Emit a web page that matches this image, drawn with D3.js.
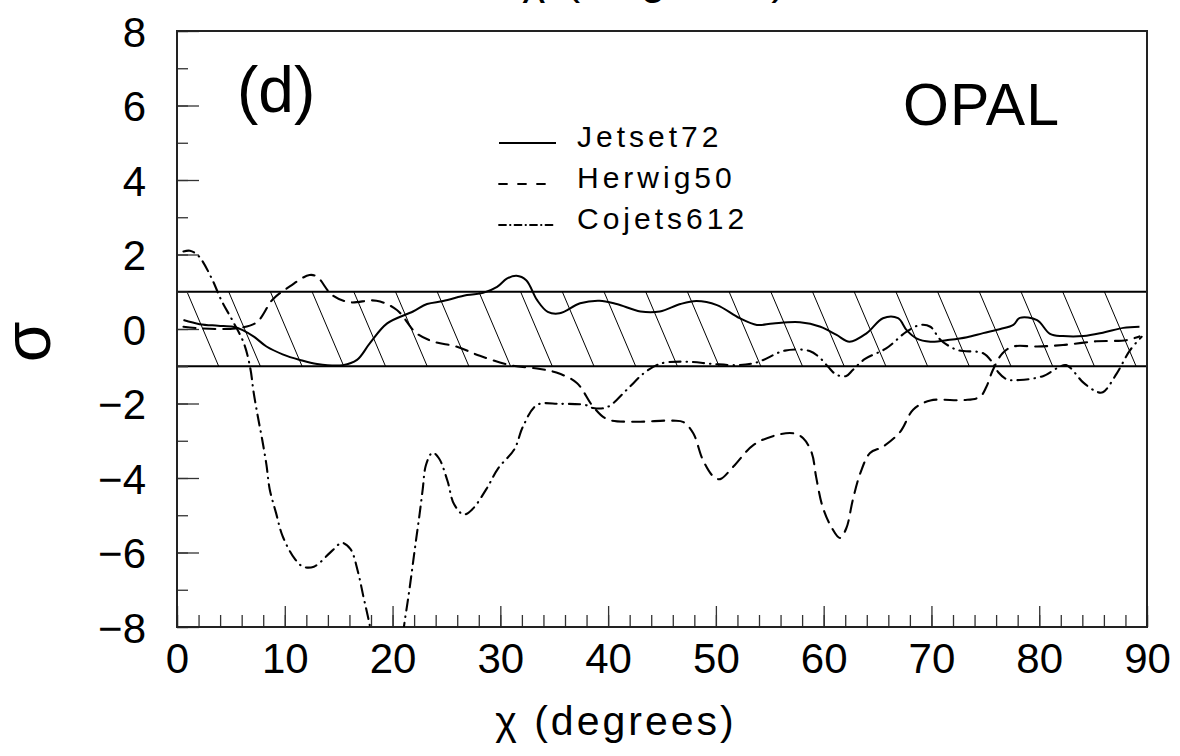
<!DOCTYPE html>
<html>
<head>
<meta charset="utf-8">
<script src="https://cdn.jsdelivr.net/npm/d3@7"></script>
<style>
    body { margin: 0; background: #fff; }
    text { font-family: "Liberation Sans", Arial, sans-serif; fill: #000; }
</style>
</head>
<body>
<svg id="chart" width="1180" height="756"></svg>
<script>
// --- data (chi in degrees, sigma) ---
const jetsetX = [0.6, 2.1, 3.8, 5.2, 6.1, 7.2, 8.3, 9.8, 11.4, 13, 15.4, 16.7, 17.9, 19.5, 21.9, 23.2, 24.7, 26.9, 28.4, 29.7, 30.6, 31.5, 32.4, 33.4, 34.4, 35.5, 37.4, 39.2, 40.8, 43, 44.8, 46.7, 48.2, 50.1, 52.2, 53.8, 55.3, 57.8, 59.7, 61.2, 62.4, 64, 65.5, 66.9, 67.7, 68.6, 69.9, 71.7, 73.3, 74.8, 76.4, 77.6, 78.2, 79.8, 81, 82.2, 84.1, 85.9, 87.8, 89.3];
const jetsetY = [0.24, 0.13, 0.09, 0.06, -0.03, -0.22, -0.47, -0.68, -0.83, -0.94, -0.97, -0.83, -0.38, 0.15, 0.47, 0.67, 0.75, 0.91, 0.97, 1.13, 1.35, 1.43, 1.31, 0.78, 0.46, 0.42, 0.69, 0.76, 0.67, 0.47, 0.47, 0.67, 0.75, 0.64, 0.29, 0.11, 0.15, 0.18, 0.06, -0.16, -0.34, -0.11, 0.29, 0.29, -0.03, -0.25, -0.34, -0.29, -0.22, -0.11, 0, 0.11, 0.30, 0.24, -0.13, -0.19, -0.19, -0.1, 0.03, 0.06];

const herwigX = [0.6, 2, 3.7, 5.8, 7.4, 8.9, 10.5, 12.3, 13, 14.4, 16, 18.5, 20.4, 22.2, 23.8, 25.9, 28.1, 30.9, 33.4, 35.2, 37.1, 38.6, 39.9, 42.3, 46, 47, 47.9, 48.8, 49.8, 50.4, 51.6, 53.5, 55.6, 57.2, 58.1, 58.9, 59.3, 59.9, 60.7, 61.5, 62.1, 62.7, 63.4, 64.3, 65.5, 67.1, 68.3, 69.9, 73, 74.5, 75.1, 75.7, 76.6, 77.6, 79.8, 82.2, 85.3, 88.1, 89.3];
const herwigY = [0.06, 0.02, 0, 0.03, 0.18, 0.8, 1.15, 1.45, 1.40, 0.91, 0.72, 0.76, 0.51, -0.11, -0.34, -0.47, -0.72, -0.97, -1.06, -1.17, -1.45, -2.08, -2.42, -2.49, -2.46, -2.5, -2.8, -3.52, -3.97, -4.03, -3.70, -3.11, -2.85, -2.8, -2.93, -3.33, -3.97, -4.77, -5.31, -5.61, -5.35, -4.59, -3.87, -3.33, -3.16, -2.76, -2.17, -1.92, -1.91, -1.82, -1.55, -1.10, -0.65, -0.47, -0.47, -0.43, -0.33, -0.3, -0.2];

const cojetsX = [0.6, 1.2, 2.0, 3.2, 4.1, 5.2, 6.2, 6.8, 7.1, 7.5, 7.9, 8.3, 8.6, 9.2, 9.8, 10.9, 11.7, 12.7, 14.4, 15.3, 16.1, 16.8, 17.3, 17.8, 18.6, 19.6, 20.6, 21.2, 21.6, 21.9, 22.2, 22.5, 22.8, 23.1, 23.7, 24.3, 25.1, 25.7, 26.6, 27.4, 28.7, 29.8, 31.3, 32.1, 33.4, 35.5, 37.9, 38.6, 39.9, 41.7, 43.3, 44.5, 45.3, 47.4, 49.8, 52.1, 53.5, 54.4, 56.4, 58.7, 59.7, 60.4, 61.2, 62.1, 62.7, 63.8, 65.8, 67.7, 69, 69.9, 70.8, 71.7, 72.6, 74.8, 75.7, 76.2, 77, 78.2, 80.4, 81.6, 82.5, 84.1, 85.3, 85.9, 87.2, 88.4, 89.5];
const cojetsY = [2.08, 2.1, 1.96, 1.37, 0.78, 0.20, -0.38, -1.05, -1.68, -2.35, -2.96, -3.65, -4.3, -4.95, -5.56, -6.16, -6.38, -6.38, -5.95, -5.74, -5.91, -6.53, -7.19, -7.83, -8.9, -9.3, -8.7, -7.7, -6.92, -6.27, -5.62, -4.99, -4.30, -3.65, -3.32, -3.47, -4.08, -4.70, -4.98, -4.84, -4.30, -3.74, -3.23, -2.62, -2.04, -2.01, -2.04, -2.12, -2.1, -1.64, -1.19, -0.97, -0.90, -0.88, -0.94, -0.97, -0.92, -0.83, -0.58, -0.59, -0.79, -1.01, -1.23, -1.26, -1.10, -0.81, -0.52, -0.07, 0.11, 0.06, -0.28, -0.47, -0.58, -0.65, -0.92, -1.16, -1.35, -1.37, -1.26, -1.06, -0.97, -1.44, -1.68, -1.7, -1.19, -0.58, -0.21];

const seriesNames = ["Jetset72", "Herwig50", "Cojets612"];
const seriesDash = ["none", "12,8", "11,6,0.5,6"];

const xMajorTicks = [0, 10, 20, 30, 40, 50, 60, 70, 80, 90];
const yMajorTicks = [-8, -6, -4, -2, 0, 2, 4, 6, 8];
const bandLimits = [-1, 1];

// --- layout ---
const mLeft = 177, mTop = 31, plotW = 970, plotH = 596;

const paper = d3.select("#chart");
const x = d3.scaleLinear().domain([0, 90]).range([mLeft, mLeft + plotW]);
const y = d3.scaleLinear().domain([-8, 8]).range([mTop + plotH, mTop]);

const series = [
    {name: seriesNames[0], dash: seriesDash[0], pts: jetsetX.map((v, i) => [v, jetsetY[i]])},
    {name: seriesNames[1], dash: seriesDash[1], pts: herwigX.map((v, i) => [v, herwigY[i]])},
    {name: seriesNames[2], dash: seriesDash[2], pts: cojetsX.map((v, i) => [v, cojetsY[i]])}
];

const defs = paper.append("defs");
defs.append("clipPath").attr("id", "plotClip")
    .append("rect")
    .attr("x", mLeft).attr("y", mTop).attr("width", plotW).attr("height", plotH);
defs.append("clipPath").attr("id", "bandClip")
    .append("rect")
    .attr("x", x(0)).attr("y", y(bandLimits[1]))
    .attr("width", x(90) - x(0)).attr("height", y(bandLimits[0]) - y(bandLimits[1]));

drawBand();
drawAxes();
drawCurves();
drawLegend();
drawLabels();

function drawBand() {
    const yTop = y(bandLimits[1]), yBot = y(bandLimits[0]);
    const spacing = 41.7, lean = 31.7;   // hatch pitch and horizontal offset top->bottom
    const hatch = d3.range(x(0), x(90) + lean + spacing, spacing);

    paper.append("g").attr("clip-path", "url(#bandClip)")
        .selectAll(".hatch")
        .data(hatch)
        .join("line")
        .attr("class", "hatch")
        .attr("x1", d => d - lean).attr("y1", yTop)
        .attr("x2", d => d).attr("y2", yBot)
        .attr("stroke", "#000").attr("stroke-width", 1);

    paper.append("rect")
        .attr("x", x(0)).attr("y", yTop)
        .attr("width", x(90) - x(0)).attr("height", yBot - yTop)
        .attr("fill", "none").attr("stroke", "#000").attr("stroke-width", 2);
}

function drawAxes() {
    // x minor + major ticks pointing into the plot
    paper.append("g")
        .attr("transform", `translate(0,${mTop + plotH})`)
        .call(d3.axisBottom(x).tickValues(d3.range(0, 91, 2)).tickSize(-12).tickFormat(""))
        .call(g => g.select(".domain").remove())
        .call(g => g.selectAll("line").attr("stroke", "#333").attr("stroke-width", 1.3));

    paper.append("g")
        .attr("transform", `translate(0,${mTop + plotH})`)
        .call(d3.axisBottom(x).tickValues(xMajorTicks).tickSize(-21).tickPadding(46).tickFormat(d3.format("d")))
        .call(g => g.select(".domain").remove())
        .call(g => g.selectAll("line").attr("stroke", "#333").attr("stroke-width", 1.3))
        .call(g => g.selectAll("text").attr("font-size", 42).attr("dy", 0)
            .attr("y", 46).attr("font-family", "Liberation Sans"));

    paper.append("g")
        .attr("transform", `translate(${mLeft},0)`)
        .call(d3.axisLeft(y).tickValues(d3.range(-8, 9, 1)).tickSize(-11).tickFormat(""))
        .call(g => g.select(".domain").remove())
        .call(g => g.selectAll("line").attr("stroke", "#333").attr("stroke-width", 1.3));

    paper.append("g")
        .attr("transform", `translate(${mLeft},0)`)
        .call(d3.axisLeft(y).tickValues(yMajorTicks).tickSize(-22).tickPadding(31).tickFormat(d3.format("d")))
        .call(g => g.select(".domain").remove())
        .call(g => g.selectAll("line").attr("stroke", "#333").attr("stroke-width", 1.3))
        .call(g => g.selectAll("text").attr("font-size", 42).attr("dy", "0.36em")
            .attr("font-family", "Liberation Sans"));

    // frame
    paper.append("rect")
        .attr("x", mLeft).attr("y", mTop).attr("width", plotW).attr("height", plotH)
        .attr("fill", "none").attr("stroke", "#222").attr("stroke-width", 2);
}

function drawCurves() {
    const line = d3.line()
        .x(d => x(d[0]))
        .y(d => y(d[1]))
        .curve(d3.curveCatmullRom.alpha(0.5));

    paper.append("g").attr("clip-path", "url(#plotClip)")
        .selectAll(".curve")
        .data(series)
        .join("path")
        .attr("class", "curve")
        .attr("d", s => line(s.pts))
        .attr("fill", "none")
        .attr("stroke", "#000")
        .attr("stroke-width", s => s.dash === "none" ? 2 : 2.1)
        .attr("stroke-linecap", s => s.dash === "none" ? "butt" : "round")
        .attr("stroke-dasharray", s => s.dash === "none" ? null : s.dash);
}

function drawLegend() {
    const rows = [143, 184, 225];
    const legend = paper.append("g").attr("class", "legend")
        .selectAll("g")
        .data(series)
        .join("g")
        .attr("transform", (s, i) => `translate(0,${rows[i]})`);

    legend.append("line")
        .attr("x1", 499).attr("x2", 556)
        .attr("stroke", "#000").attr("stroke-width", 1.8)
        .attr("stroke-linecap", s => s.dash === "none" ? "butt" : "round")
        .attr("stroke-dasharray", (s, i) => i === 0 ? null : (i === 1 ? "8,11" : "7,4,0.5,4"));

    legend.append("text")
        .attr("x", 577).attr("y", 4)
        .attr("font-size", 30)
        .attr("letter-spacing", 4)
        .text(s => s.name);
}

function drawLabels() {
    paper.append("text")
        .attr("x", 237).attr("y", 112)
        .attr("font-size", 64)
        .text("(d)");

    paper.append("text")
        .attr("x", 903).attr("y", 125)
        .attr("font-size", 59)
        .attr("letter-spacing", 1)
        .text("OPAL");

    paper.append("text")
        .attr("transform", "translate(50,342) rotate(-90)")
        .attr("text-anchor", "middle")
        .attr("font-size", 66)
        .text("σ");

    paper.append("text")
        .attr("x", 616).attr("y", 735)
        .attr("text-anchor", "middle")
        .attr("font-size", 41)
        .attr("letter-spacing", 3)
        .text("χ (degrees)");

    // tail of the previous panel's axis title, cut by the page edge
    paper.append("text")
        .attr("x", 656).attr("y", -6)
        .attr("text-anchor", "middle")
        .attr("font-size", 44)
        .attr("letter-spacing", 4)
        .text("χ (degrees)");
}
</script>
</body>
</html>
